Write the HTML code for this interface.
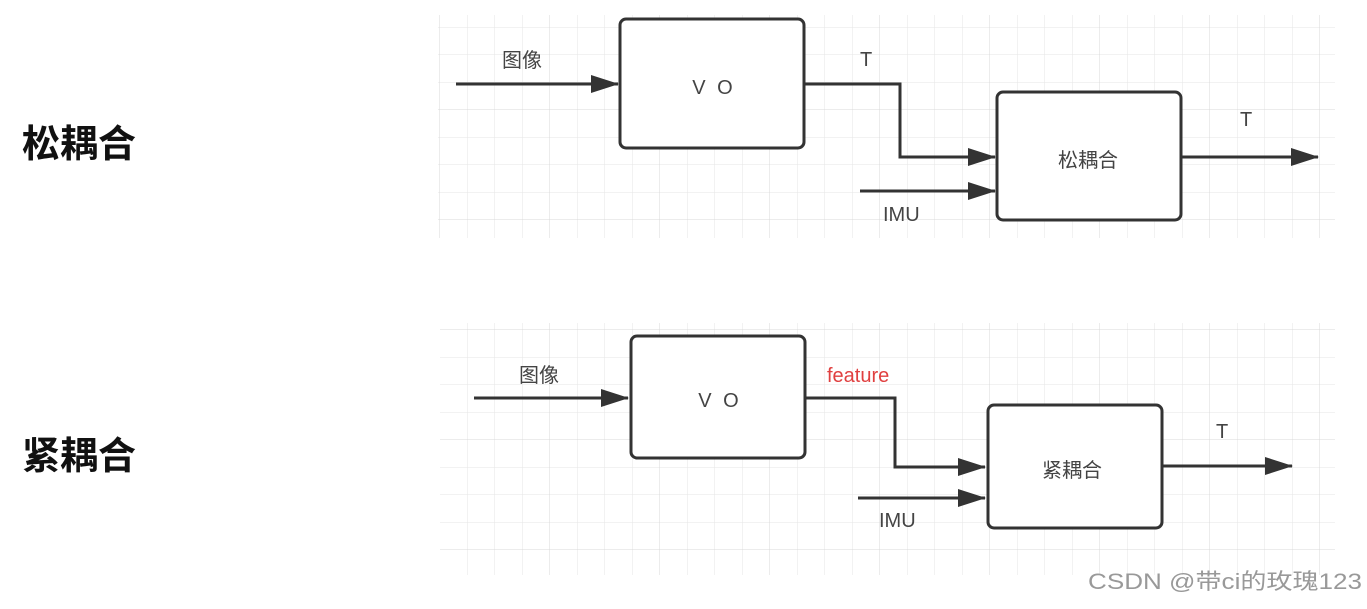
<!DOCTYPE html>
<html><head><meta charset="utf-8"><style>
body{margin:0;background:#fff;width:1367px;height:604px;overflow:hidden}
svg text{font-family:"Liberation Sans","Noto Sans CJK SC",sans-serif}
</style></head><body>
<svg width="1367" height="604" xmlns="http://www.w3.org/2000/svg">
<defs>
<pattern id="g" width="27.5" height="27.5" patternUnits="userSpaceOnUse">
<path d="M27.5 0V27.5M0 27.5H27.5" stroke="#e6e6e6" stroke-width="1" fill="none"/>
</pattern>
<pattern id="G" width="110" height="110" patternUnits="userSpaceOnUse">
<rect width="110" height="110" fill="url(#g)"/>
<path d="M110 0V110M0 110H110" stroke="#d8d8d8" stroke-width="1" fill="none"/>
</pattern>
<marker id="b" markerWidth="28" markerHeight="20" refX="27" refY="10" orient="auto" markerUnits="userSpaceOnUse" viewBox="0 0 28 20">
<path d="M0 1L28 10L0 19z" fill="#333"/>
</marker>
</defs>
<rect x="438" y="15" width="897" height="223" fill="url(#G)"/>
<rect x="440" y="323" width="895" height="252" fill="url(#G)"/>

<text x="22" y="157" font-size="38" font-weight="bold" fill="#111">松耦合</text>
<text x="22" y="469" font-size="38" font-weight="bold" fill="#111">紧耦合</text>

<g stroke="#333" stroke-width="3" fill="none">
<rect x="620" y="19" width="184" height="129" rx="6" fill="#fff"/>
<rect x="997" y="92" width="184" height="128" rx="6" fill="#fff"/>
<line x1="456" y1="84" x2="618" y2="84" marker-end="url(#b)"/>
<polyline points="804,84 900,84 900,157 995,157" marker-end="url(#b)"/>
<line x1="860" y1="191" x2="995" y2="191" marker-end="url(#b)"/>
<line x1="1181" y1="157" x2="1318" y2="157" marker-end="url(#b)"/>

<rect x="631" y="336" width="174" height="122" rx="6" fill="#fff"/>
<rect x="988" y="405" width="174" height="123" rx="6" fill="#fff"/>
<line x1="474" y1="398" x2="628" y2="398" marker-end="url(#b)"/>
<polyline points="805,398 895,398 895,467 985,467" marker-end="url(#b)"/>
<line x1="858" y1="498" x2="985" y2="498" marker-end="url(#b)"/>
<line x1="1162" y1="466" x2="1292" y2="466" marker-end="url(#b)"/>
</g>

<g fill="#444" font-size="20">
<text x="502" y="67">图像</text>
<text x="714" y="94" text-anchor="middle" letter-spacing="3">V O</text>
<text x="860" y="66">T</text>
<text x="883" y="221">IMU</text>
<text x="1088" y="167" text-anchor="middle">松耦合</text>
<text x="1240" y="126">T</text>

<text x="519" y="382">图像</text>
<text x="720" y="407" text-anchor="middle" letter-spacing="3">V O</text>
<text x="827" y="382" fill="#e04040">feature</text>
<text x="879" y="527">IMU</text>
<text x="1072" y="477" text-anchor="middle">紧耦合</text>
<text x="1216" y="438">T</text>
</g>
<text x="1088" y="589" font-size="22" fill="#999" textLength="274" lengthAdjust="spacingAndGlyphs">CSDN @带ci的玫瑰123</text>
</svg>
</body></html>
